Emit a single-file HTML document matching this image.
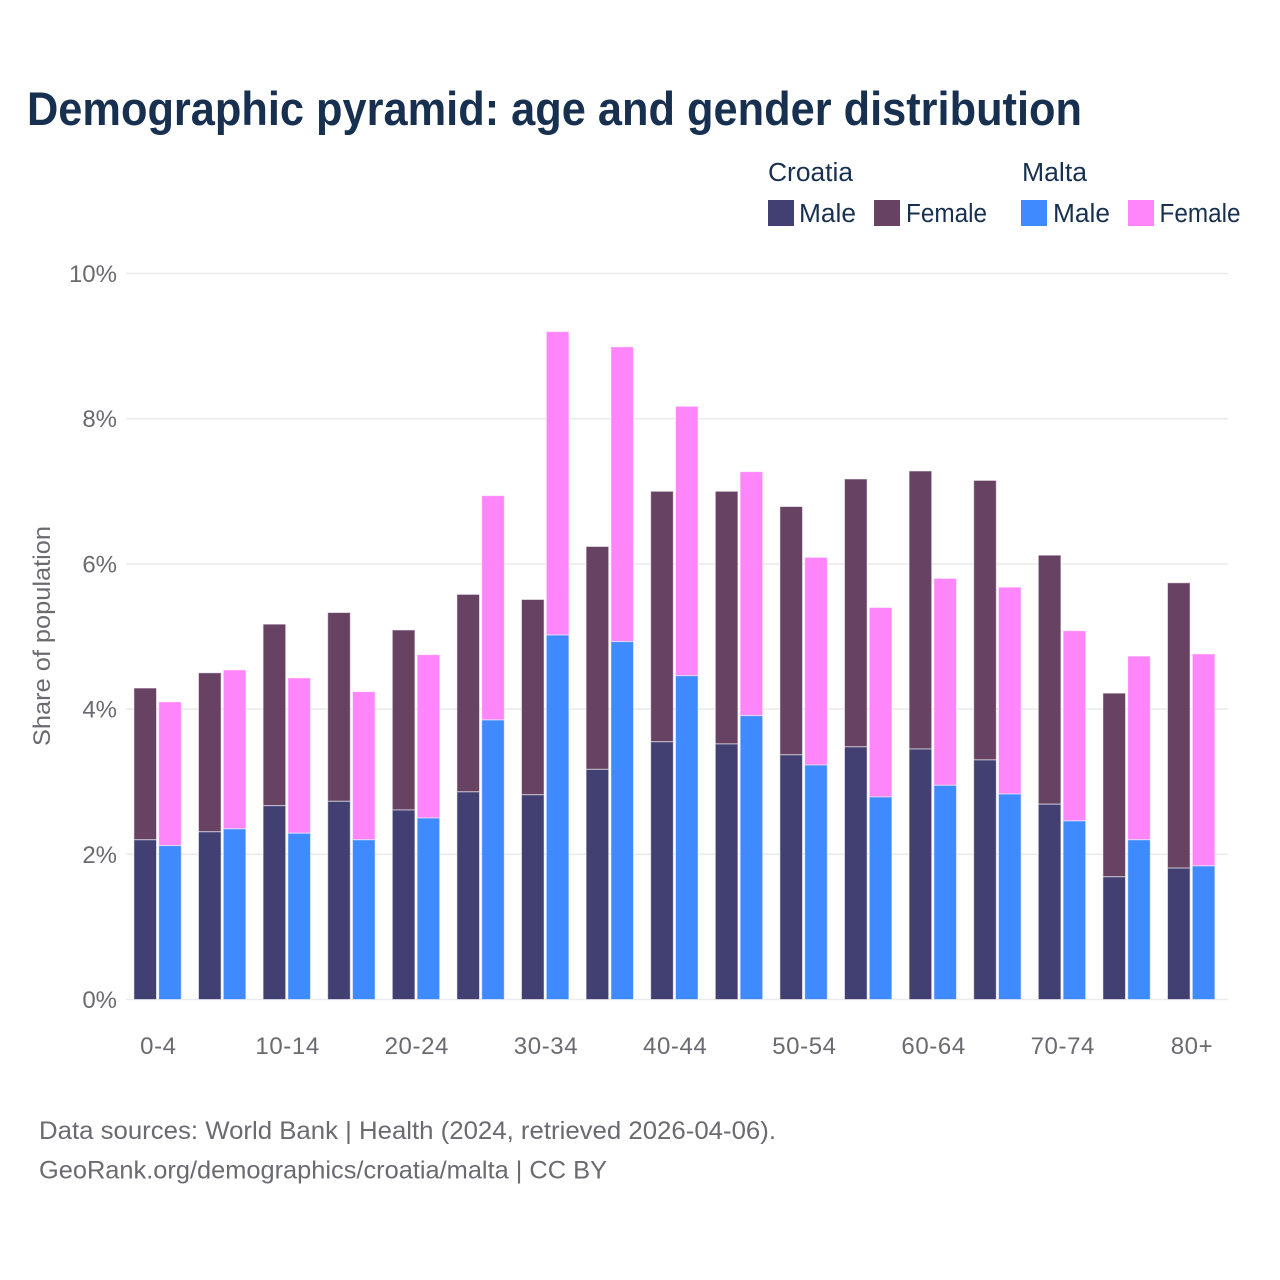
<!DOCTYPE html>
<html lang="en">
<head>
<meta charset="utf-8">
<title>Demographic pyramid: age and gender distribution</title>
<style>
  html, body { margin: 0; padding: 0; background: #fff; }
  svg { display: block; font-family: "Liberation Sans", sans-serif; }
  .tick { font-size: 24px; fill: #6a6a70; }
  .tick-x { letter-spacing: 0.6px; }
  .legend-text { font-size: 25.5px; fill: #18304f; }
  .footer { font-size: 25px; fill: #6a6a70; }
</style>
</head>
<body>
<svg id="chart" width="1280" height="1280" viewBox="0 0 1280 1280" xmlns="http://www.w3.org/2000/svg">
  <rect x="0" y="0" width="1280" height="1280" fill="#ffffff"/>
  <text x="27" y="125" font-size="47" font-weight="700" fill="#18304f" textLength="1055" lengthAdjust="spacingAndGlyphs">Demographic pyramid: age and gender distribution</text>

  <g>
    <text class="legend-text" x="768" y="181" textLength="85" lengthAdjust="spacingAndGlyphs">Croatia</text>
    <text class="legend-text" x="1022" y="181" textLength="65" lengthAdjust="spacingAndGlyphs">Malta</text>
    <rect x="768" y="200" width="26" height="26" fill="#423f72"/>
    <text class="legend-text" x="799" y="222" textLength="57" lengthAdjust="spacingAndGlyphs">Male</text>
    <rect x="874" y="200" width="26" height="26" fill="#674263"/>
    <text class="legend-text" x="906" y="222" textLength="81" lengthAdjust="spacingAndGlyphs">Female</text>
    <rect x="1021" y="200" width="26" height="26" fill="#408aff"/>
    <text class="legend-text" x="1053" y="222" textLength="57" lengthAdjust="spacingAndGlyphs">Male</text>
    <rect x="1128" y="200" width="26" height="26" fill="#ff85fa"/>
    <text class="legend-text" x="1159.5" y="222" textLength="81" lengthAdjust="spacingAndGlyphs">Female</text>
  </g>

  <g id="grid"></g>
  <g id="y-labels"></g>
  <g id="bars"></g>
  <g id="x-labels"></g>

  <text transform="translate(50 636) rotate(-90)" text-anchor="middle" font-size="24" fill="#6a6a70" textLength="220" lengthAdjust="spacingAndGlyphs">Share of population</text>

  <text class="footer" x="39" y="1139" textLength="737" lengthAdjust="spacingAndGlyphs">Data sources: World Bank | Health (2024, retrieved 2026-04-06).</text>
  <text class="footer" x="39" y="1178.5" textLength="568" lengthAdjust="spacingAndGlyphs">GeoRank.org/demographics/croatia/malta | CC BY</text>
</svg>

<script>
const ageGroups = ["0-4","5-9","10-14","15-19","20-24","25-29","30-34","35-39","40-44","45-49","50-54","55-59","60-64","65-69","70-74","75-79","80+"];
const xTickLabels = ["0-4","10-14","20-24","30-34","40-44","50-54","60-64","70-74","80+"];
const yTicks = [0, 2, 4, 6, 8, 10];
const croatiaMale = [2.20,2.31,2.67,2.73,2.61,2.86,2.82,3.17,3.55,3.52,3.37,3.48,3.45,3.30,2.69,1.69,1.81];
const croatiaFemale = [2.09,2.19,2.50,2.60,2.48,2.72,2.69,3.07,3.45,3.48,3.42,3.69,3.83,3.85,3.43,2.53,3.93];
const maltaMale = [2.12,2.35,2.29,2.20,2.50,3.85,5.02,4.93,4.46,3.91,3.23,2.79,2.95,2.83,2.46,2.20,1.84];
const maltaFemale = [1.98,2.19,2.14,2.04,2.25,3.09,4.18,4.06,3.71,3.36,2.86,2.61,2.85,2.85,2.62,2.53,2.92];

const SVG_NS = "http://www.w3.org/2000/svg";
const plot = { left: 125.1, bandStep: 64.6, y0: 999.5, unit: 72.6, gridLeft: 126, gridRight: 1228 };
const barWidth = 22.6;

function xCenter(i) { return plot.left + plot.bandStep * (i + 0.5); }
function yPos(v) { return plot.y0 - v * plot.unit; }

function drawBar(parent, x, v0, v1, fill, name) {
  const r = document.createElementNS(SVG_NS, "rect");
  r.setAttribute("x", x);
  r.setAttribute("y", yPos(v1));
  r.setAttribute("width", barWidth);
  r.setAttribute("height", yPos(v0) - yPos(v1));
  r.setAttribute("fill", fill);
  r.setAttribute("stroke", "rgba(255,255,255,0.55)");
  r.setAttribute("stroke-width", "1");
  
  
  parent.appendChild(r);
}

const gridGroup = document.getElementById("grid");
const yLabelGroup = document.getElementById("y-labels");
yTicks.forEach(function (t) {
  const line = document.createElementNS(SVG_NS, "line");
  line.setAttribute("x1", plot.gridLeft);
  line.setAttribute("x2", plot.gridRight);
  line.setAttribute("y1", yPos(t));
  line.setAttribute("y2", yPos(t));
  line.setAttribute("stroke", "#ebebed");
  line.setAttribute("stroke-width", "1.6");
  
  
  gridGroup.appendChild(line);

  const label = document.createElementNS(SVG_NS, "text");
  label.setAttribute("x", 117);
  label.setAttribute("y", yPos(t) + 8.5);
  label.setAttribute("text-anchor", "end");
  label.setAttribute("class", "tick");
  
  
  label.textContent = t + "%";
  yLabelGroup.appendChild(label);
});

const barGroup = document.getElementById("bars");
ageGroups.forEach(function (age, i) {
  const c = xCenter(i);
  const leftX = c - 23.5;
  const rightX = c + 1.3;
  drawBar(barGroup, leftX, croatiaMale[i], croatiaMale[i] + croatiaFemale[i], "#674263", "bar-croatia-female-" + age);
  drawBar(barGroup, leftX, 0, croatiaMale[i], "#423f72", "bar-croatia-male-" + age);
  drawBar(barGroup, rightX, maltaMale[i], maltaMale[i] + maltaFemale[i], "#ff85fa", "bar-malta-female-" + age);
  drawBar(barGroup, rightX, 0, maltaMale[i], "#408aff", "bar-malta-male-" + age);
});

const xLabelGroup = document.getElementById("x-labels");
xTickLabels.forEach(function (lab) {
  const i = ageGroups.indexOf(lab);
  const t = document.createElementNS(SVG_NS, "text");
  t.setAttribute("x", xCenter(i) + 1);
  t.setAttribute("y", 1054);
  t.setAttribute("text-anchor", "middle");
  t.setAttribute("class", "tick tick-x");
  
  
  t.textContent = lab;
  xLabelGroup.appendChild(t);
});
</script>
</body>
</html>
